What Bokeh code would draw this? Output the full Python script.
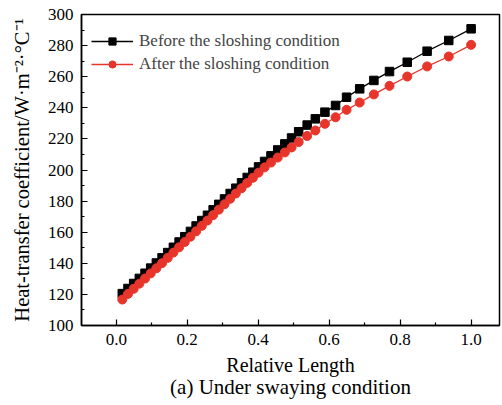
from bokeh.plotting import figure
from bokeh.models import Range1d, Title, FixedTicker, NumeralTickFormatter
from bokeh.embed import file_html
from bokeh.resources import INLINE

# Relative length positions
x_vals = [0.017, 0.033, 0.049, 0.065, 0.081, 0.097, 0.113, 0.129, 0.145, 0.161,
          0.177, 0.193, 0.209, 0.225, 0.241, 0.257, 0.273, 0.289, 0.305, 0.321,
          0.337, 0.353, 0.369, 0.385, 0.401, 0.418, 0.436, 0.455, 0.475, 0.494,
          0.514, 0.538, 0.561, 0.588, 0.618, 0.649, 0.686, 0.726, 0.770, 0.820,
          0.876, 0.937, 1.0]

before_vals = [120.5, 123.8, 127.0, 130.3, 133.6, 136.9, 140.2, 143.5, 146.9, 150.3,
               153.7, 157.1, 160.5, 164.0, 167.5, 170.9, 174.4, 177.9, 181.4, 184.9,
               188.3, 191.8, 195.2, 198.6, 202.0, 205.5, 209.1, 212.9, 216.8, 220.6,
               224.6, 228.9, 232.9, 237.2, 241.5, 246.8, 252.2, 257.6, 263.3, 269.3,
               276.4, 283.3, 290.8]

after_vals = [116.7, 120.3, 123.6, 126.9, 130.2, 133.5, 136.8, 140.1, 143.5, 146.9,
              150.3, 153.7, 157.1, 160.6, 164.1, 167.5, 171.0, 174.5, 178.0, 181.5,
              184.9, 188.3, 191.7, 195.0, 198.3, 201.7, 204.8, 208.0, 211.3, 214.5,
              218.0, 221.9, 225.4, 229.7, 233.9, 238.7, 243.4, 248.6, 254.1, 260.1,
              266.6, 273.0, 280.5]

x_major = [0.0, 0.2, 0.4, 0.6, 0.8, 1.0]
x_minor = [0.1, 0.3, 0.5, 0.7, 0.9]
y_major = [100, 120, 140, 160, 180, 200, 220, 240, 260, 280, 300]
y_minor = [110, 130, 150, 170, 190, 210, 230, 250, 270, 290]

label_before = "Before the sloshing condition"
label_after = "After the sloshing condition"
x_label = "Relative Length"
y_label = "Heat-transfer coefficient/W\u00b7m\u207b\u00b2\u00b7\u00b0C\u207b\u00b9"
caption = "(a) Under swaying condition"

SERIF = "Liberation Serif"
RED = "#e8352c"

p = figure(width=502, height=405, output_backend="svg", toolbar_location=None,
           x_range=Range1d(-0.098, 1.08), y_range=Range1d(100, 300),
           min_border_left=81, min_border_right=3, min_border_top=14,
           min_border_bottom=80, background_fill_color="white",
           border_fill_color="white")

p.xgrid.visible = False
p.ygrid.visible = False
p.outline_line_color = "black"
p.outline_line_width = 1.5
p.outline_line_alpha = 1.0

p.line(x_vals, before_vals, line_color="black", line_width=1.3, legend_label=label_before)
p.scatter(x_vals, before_vals, marker="square", size=8.5, fill_color="black",
          line_color="black", legend_label=label_before)
p.line(x_vals, after_vals, line_color=RED, line_width=1.3, legend_label=label_after)
p.scatter(x_vals, after_vals, marker="circle", size=9, fill_color=RED,
          line_color=RED, legend_label=label_after)

for ax in (p.xaxis[0], p.yaxis[0]):
    ax.axis_line_width = 1.5
    ax.major_tick_in = 6
    ax.major_tick_out = 0
    ax.minor_tick_in = 3
    ax.minor_tick_out = 0
    ax.major_tick_line_width = 1.2
    ax.minor_tick_line_width = 1.2
    ax.major_label_text_font = SERIF
    ax.major_label_text_font_size = "17px"
    ax.major_label_text_color = "black"
    ax.axis_label_text_font = SERIF
    ax.axis_label_text_font_style = "normal"
    ax.axis_label_text_color = "black"

p.xaxis[0].ticker = FixedTicker(ticks=x_major, minor_ticks=x_minor)
p.xaxis[0].formatter = NumeralTickFormatter(format="0.0")
p.xaxis[0].major_label_standoff = 8
p.xaxis[0].axis_label = x_label
p.xaxis[0].axis_label_text_font_size = "20px"
p.xaxis[0].axis_label_standoff = 6

p.yaxis[0].ticker = FixedTicker(ticks=y_major, minor_ticks=y_minor)
p.yaxis[0].major_label_standoff = 8
p.yaxis[0].axis_label = y_label
p.yaxis[0].axis_label_text_font_size = "20.5px"
p.yaxis[0].axis_label_standoff = 12

cap = Title(text=caption, align="center", text_font=SERIF, text_font_size="21px",
            text_font_style="normal", text_color="black", standoff=-11, offset=0)
p.add_layout(cap, "below")

lg = p.legend[0]
lg.location = (10, 251)
lg.border_line_color = None
lg.background_fill_alpha = 0
lg.label_text_font = SERIF
lg.label_text_font_size = "17px"
lg.glyph_width = 42
lg.glyph_height = 18
lg.label_height = 18
lg.spacing = 3
lg.margin = 0
lg.padding = 8
lg.label_standoff = 6

open("out.html", "w").write(file_html(p, INLINE))
